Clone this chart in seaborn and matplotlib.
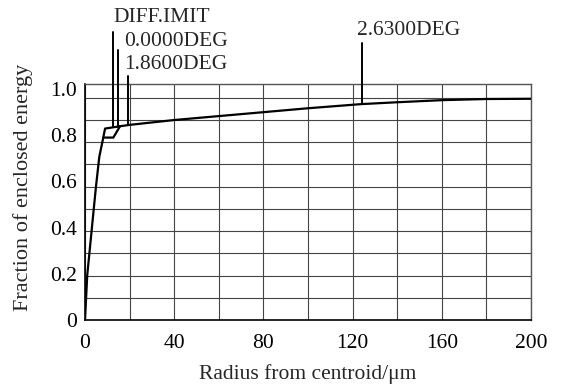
import numpy as np
import pandas as pd
import matplotlib
matplotlib.use("Agg")
import matplotlib.pyplot as plt
import seaborn as sns

# ---- data ----
r_main = [0, 1.0, 3.0, 4.9, 6.4, 8.2, 9.0, 15.7, 20, 40, 60, 80, 100, 124, 140, 160, 180, 200]
e_main = [0, 0.194, 0.390, 0.576, 0.706, 0.790, 0.829, 0.839, 0.845, 0.866, 0.883,
          0.900, 0.917, 0.935, 0.943, 0.952, 0.957, 0.958]
r_branch = [8.2, 12.7, 15.7]
e_branch = [0.790, 0.790, 0.839]

labels = ["DIFF.IMIT", "0.0000DEG", "1.8600DEG", "2.6300DEG"]
label_r = [12.4, 14.9, 19.1, 124.2]
label_top = [1.246, 1.169, 1.056, 1.199]
text_r = [12.7, 17.5, 17.5, 122.0]
text_y = [1.312, 1.208, 1.108, 1.252]

x_ticks = [0, 40, 80, 120, 160, 200]
y_ticks = [0, 0.2, 0.4, 0.6, 0.8, 1.0]
y_ticklabels = ["0", "0.2", "0.4", "0.6", "0.8", "1.0"]

sns.set_theme(style="white")
plt.rcParams["font.family"] = ["Liberation Serif", "DejaVu Serif"]

fig = plt.figure(figsize=(5.67, 3.89), dpi=100)
ax = fig.add_axes([85 / 567, 1 - 320 / 389, 446 / 567, 236 / 389])

df_main = pd.DataFrame({"r": r_main, "e": e_main})
df_branch = pd.DataFrame({"r": r_branch, "e": e_branch})
sns.lineplot(data=df_main, x="r", y="e", sort=False, estimator=None, color="black",
             linewidth=1.6, ax=ax, zorder=5)
sns.lineplot(data=df_branch, x="r", y="e", sort=False, estimator=None, color="black",
             linewidth=1.6, ax=ax, zorder=5)

ax.set_xlim(0, 200)
ax.set_ylim(0, 1.022)

# grid
ax.set_xticks(x_ticks)
ax.set_xticks(np.arange(20, 200, 40), minor=True)
ax.set_yticks(y_ticks)
ax.set_yticklabels(y_ticklabels)
ax.set_yticks(np.arange(1, 11) * 0.0962, minor=True)
ax.grid(False)
ax.grid(True, axis="x", which="both", color="#444444", linewidth=0.8)
ax.grid(True, axis="y", which="minor", color="#444444", linewidth=0.8)
ax.tick_params(which="both", length=0, labelsize=15.5, colors="black")
ax.tick_params(axis="x", pad=10)
ax.tick_params(axis="y", pad=6)

for s in ["left", "bottom"]:
    ax.spines[s].set_color("black")
    ax.spines[s].set_linewidth(1.2)
for s in ["top", "right"]:
    ax.spines[s].set_color("#555555")
    ax.spines[s].set_linewidth(1.0)

ax.set_xlabel("Radius from centroid/μm", fontsize=15.5, labelpad=8)
ax.set_ylabel("Fraction of enclosed energy", fontsize=16)
ax.yaxis.set_label_coords(-0.116, 0.564)

# annotation leaders and labels
for name, lr, lt, tr, ty in zip(labels, label_r, label_top, text_r, text_y):
    bottom = float(np.interp(lr, r_main, e_main))
    ax.plot([lr, lr], [bottom, lt], color="black", linewidth=1.4, clip_on=False, zorder=6)
    ax.text(tr, ty, name, fontsize=15.5, ha="left", va="center", clip_on=False)

fig.savefig("out.png", dpi=100)
